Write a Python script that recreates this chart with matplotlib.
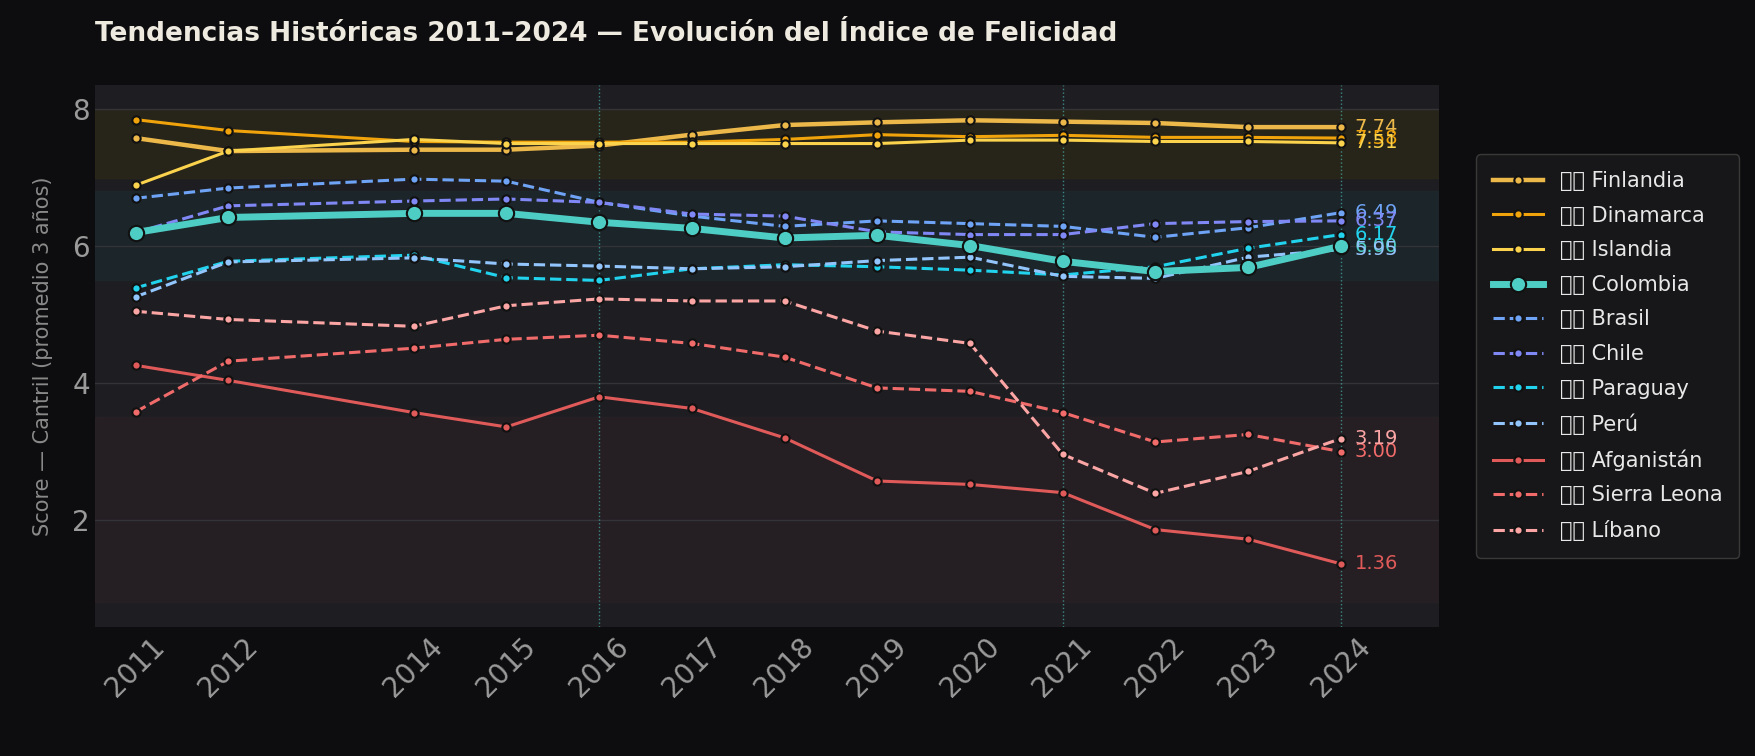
import matplotlib.pyplot as plt

years = [2011, 2012, 2014, 2015, 2016, 2017, 2018, 2019, 2020, 2021, 2022, 2023, 2024]

names = ["🇫🇮 Finlandia", "🇩🇰 Dinamarca", "🇮🇸 Islandia", "🇨🇴 Colombia", "🇧🇷 Brasil",
         "🇨🇱 Chile", "🇵🇾 Paraguay", "🇵🇪 Perú", "🇦🇫 Afganistán", "🇸🇱 Sierra Leona", "🇱🇧 Líbano"]

finlandia = [7.58, 7.39, 7.41, 7.41, 7.47, 7.63, 7.77, 7.81, 7.84, 7.82, 7.80, 7.74, 7.74]
dinamarca = [7.85, 7.69, 7.53, 7.52, 7.52, 7.52, 7.56, 7.63, 7.60, 7.62, 7.59, 7.59, 7.58]
islandia = [6.89, 7.39, 7.56, 7.50, 7.50, 7.50, 7.50, 7.50, 7.55, 7.55, 7.53, 7.53, 7.51]
colombia = [6.20, 6.42, 6.48, 6.48, 6.35, 6.26, 6.12, 6.16, 6.01, 5.78, 5.63, 5.69, 6.00]
brasil = [6.70, 6.85, 6.98, 6.95, 6.64, 6.44, 6.29, 6.37, 6.33, 6.29, 6.13, 6.27, 6.49]
chile = [6.20, 6.59, 6.66, 6.69, 6.64, 6.47, 6.44, 6.21, 6.17, 6.17, 6.33, 6.36, 6.37]
paraguay = [5.39, 5.78, 5.87, 5.54, 5.50, 5.67, 5.73, 5.70, 5.65, 5.58, 5.70, 5.97, 6.17]
peru = [5.26, 5.77, 5.83, 5.74, 5.71, 5.67, 5.70, 5.79, 5.84, 5.56, 5.53, 5.84, 5.95]
afganistan = [4.26, 4.04, 3.57, 3.36, 3.80, 3.63, 3.20, 2.57, 2.52, 2.40, 1.86, 1.72, 1.36]
sierra_leona = [3.58, 4.32, 4.51, 4.64, 4.70, 4.58, 4.38, 3.93, 3.88, 3.57, 3.14, 3.25, 3.00]
libano = [5.05, 4.93, 4.83, 5.13, 5.23, 5.20, 5.20, 4.76, 4.58, 2.96, 2.39, 2.71, 3.19]

series = [finlandia, dinamarca, islandia, colombia, brasil, chile, paraguay, peru,
          afganistan, sierra_leona, libano]
colors = ["#edb84a", "#f0a30a", "#fcd34d", "#4ecdc4", "#6ea3f5", "#8088f5", "#22d3ee",
          "#93c5fd", "#e05a5a", "#f26b6b", "#fca5a5"]
styles = ["-", "-", "-", "-", "--", "--", "--", "--", "-", "--", "--"]
widths = [3.2, 2.2, 2.2, 5, 2.2, 2.2, 2.2, 2.2, 2.2, 2.2, 2.2]

plt.rcParams['font.family'] = ['DejaVu Sans']
fig, ax = plt.subplots(figsize=(17.55, 7.56), dpi=100)
fig.patch.set_facecolor("#0d0d0f")
ax.set_facecolor("#1e1e22")

ax.axhspan(7.0, 8.0, color="#2c2818", alpha=0.7, zorder=0)
ax.axhspan(5.5, 6.8, color="#1c2a30", alpha=0.6, zorder=0)
ax.axhspan(0.8, 3.5, color="#2a2024", alpha=0.6, zorder=0)
for y in [2, 4, 6, 8]:
    ax.axhline(y, color="#333338", lw=1, zorder=0.5)
for yr in [2016, 2021, 2024]:
    ax.axvline(yr, color="#4ecdc4", ls=":", lw=1, alpha=0.6)

for name, vals, c, ls, lw in zip(names, series, colors, styles, widths):
    big = name.endswith("Colombia")
    ax.plot(years, vals, color=c, ls=ls, lw=lw, marker="o", ms=11 if big else 6,
            mfc=c, mec="#111111", mew=1.5, label=name, zorder=4 if big else 3)
    ax.text(2024.15, vals[-1], f"{vals[-1]:.2f}", color=c, fontsize=14, va="center")

ax.set_xlim(2010.56, 2025.06)
ax.set_ylim(0.43, 8.36)
ax.set_xticks(years)
ax.set_xticklabels([str(y) for y in years], rotation=45, fontsize=20, color="#9a9a9a")
ax.set_yticks([2, 4, 6, 8])
ax.tick_params(axis="y", labelsize=20, colors="#9a9a9a")
ax.tick_params(length=0)
for s in ax.spines.values():
    s.set_visible(False)
ax.set_ylabel("Score — Cantril (promedio 3 años)", fontsize=15, color="#8a8a8a", labelpad=14)
fig.text(0.054, 0.955, "Tendencias Históricas 2011–2024 — Evolución del Índice de Felicidad",
         fontsize=19, fontweight="bold", color="#eeeae0", va="center")

leg = ax.legend(loc="center left", bbox_to_anchor=(1.02, 0.5), fontsize=15,
                facecolor="#1a1a1c", edgecolor="#444444", labelcolor="#e8e8e8",
                handlelength=2.4, borderpad=0.8, labelspacing=0.7)

plt.subplots_adjust(left=0.054, right=0.82, top=0.888, bottom=0.17)
plt.savefig("out.png", facecolor=fig.get_facecolor())
